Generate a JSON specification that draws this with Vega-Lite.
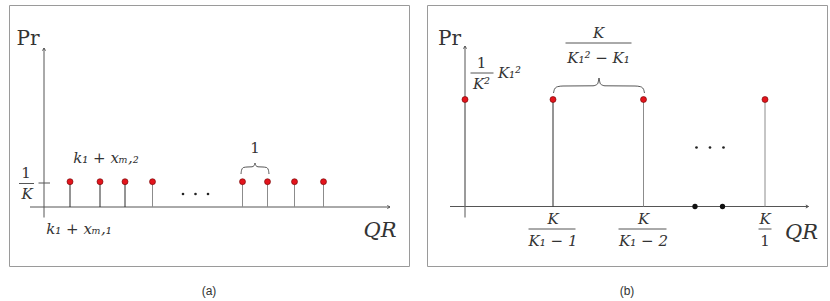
{
  "$schema": "https://vega.github.io/schema/vega-lite/v6.json",
  "padding": {"left": 8, "top": 4, "right": 0, "bottom": 0},
  "spacing": 16,
  "background": "white",
  "config": {
    "view": {"stroke": "#9a9a9a", "strokeWidth": 1},
    "title": {"orient": "bottom", "font": "Liberation Sans", "fontSize": 12, "fontWeight": "normal", "color": "#333333", "offset": 20}
  },
  "datasets": {
    "a_rules": [
      {"x": 0, "x2": 0, "y": -10.5, "y2": 159},
      {"x": -14, "x2": 346, "y": 0, "y2": 0},
      {"x": -5.5, "x2": 6, "y": 24, "y2": 24},
      {"x": -25, "x2": -10, "y": 23.5, "y2": 23.5}
    ],
    "a_stems": [
      {"x": 26, "y": 25.3, "shade": "dark"},
      {"x": 56, "y": 25.3, "shade": "dark"},
      {"x": 81, "y": 25.3, "shade": "dark"},
      {"x": 108.5, "y": 25.3, "shade": "light"},
      {"x": 198.5, "y": 25.3, "shade": "light"},
      {"x": 223.5, "y": 25.3, "shade": "light"},
      {"x": 250.5, "y": 25.3, "shade": "light"},
      {"x": 279.5, "y": 25.3, "shade": "light"}
    ],
    "a_arrows": [
      {"x": 0, "y": 159, "dir": "up"},
      {"x": 346, "y": 0, "dir": "right"}
    ],
    "a_dots": [
      {"x": 139, "y": 13},
      {"x": 151.5, "y": 13},
      {"x": 164, "y": 13}
    ],
    "a_brace": [
      {"x": 197, "y": 33, "part": "L", "order": 1},
      {"x": 197.6, "y": 37, "part": "L", "order": 2},
      {"x": 199.5, "y": 39.5, "part": "L", "order": 3},
      {"x": 203, "y": 40, "part": "L", "order": 4},
      {"x": 208, "y": 40.2, "part": "L", "order": 5},
      {"x": 210.2, "y": 41.5, "part": "L", "order": 6},
      {"x": 211, "y": 44, "part": "L", "order": 7},
      {"x": 211, "y": 44, "part": "R", "order": 1},
      {"x": 211.8, "y": 41.5, "part": "R", "order": 2},
      {"x": 214, "y": 40.2, "part": "R", "order": 3},
      {"x": 219, "y": 40, "part": "R", "order": 4},
      {"x": 222.5, "y": 39.5, "part": "R", "order": 5},
      {"x": 224.4, "y": 37, "part": "R", "order": 6},
      {"x": 225, "y": 33, "part": "R", "order": 7}
    ],
    "a_labels": [
      {"text": "Pr", "kind": "pr", "x": -16, "y": 168},
      {"text": "QR", "kind": "qr", "x": 336, "y": -24},
      {"text": "1", "kind": "num", "x": -18, "y": 34},
      {"text": "K", "kind": "math", "x": -17, "y": 13},
      {"text": "k₁ + xₘ,₂", "kind": "math", "x": 62, "y": 49},
      {"text": "k₁ + xₘ,₁", "kind": "math", "x": 35, "y": -22},
      {"text": "1", "kind": "num", "x": 211, "y": 59}
    ],
    "b_rules": [
      {"x": 0, "x2": 0, "y": -11, "y2": 160.5},
      {"x": -15, "x2": 343.5, "y": 0, "y2": 0},
      {"x": 5.5, "x2": 28.5, "y": 133.5, "y2": 133.5},
      {"x": 100.5, "x2": 166.5, "y": 163.5, "y2": 163.5},
      {"x": 63.5, "x2": 110.5, "y": -22.5, "y2": -22.5},
      {"x": 153.5, "x2": 201.5, "y": -22.5, "y2": -22.5},
      {"x": 293.5, "x2": 306.5, "y": -22.5, "y2": -22.5}
    ],
    "b_stems": [
      {"x": 0, "y": 107, "shade": "light"},
      {"x": 88, "y": 107, "shade": "dark"},
      {"x": 178.5, "y": 107, "shade": "light"},
      {"x": 300, "y": 107, "shade": "light"}
    ],
    "b_arrows": [
      {"x": 0, "y": 160.5, "dir": "up"},
      {"x": 343.5, "y": 0, "dir": "right"}
    ],
    "b_dots": [
      {"x": 231.5, "y": 59},
      {"x": 245, "y": 59},
      {"x": 258.5, "y": 59}
    ],
    "b_axisdots": [
      {"x": 230, "y": 0},
      {"x": 257.5, "y": 0}
    ],
    "b_brace": [
      {"x": 88.5, "y": 113.5, "part": "L", "order": 1},
      {"x": 89.6, "y": 117.5, "part": "L", "order": 2},
      {"x": 92.5, "y": 119.8, "part": "L", "order": 3},
      {"x": 98, "y": 120.5, "part": "L", "order": 4},
      {"x": 128, "y": 120.7, "part": "L", "order": 5},
      {"x": 132.5, "y": 122.5, "part": "L", "order": 6},
      {"x": 134, "y": 128.5, "part": "L", "order": 7},
      {"x": 134, "y": 128.5, "part": "R", "order": 1},
      {"x": 135.5, "y": 122.5, "part": "R", "order": 2},
      {"x": 140, "y": 120.7, "part": "R", "order": 3},
      {"x": 170, "y": 120.5, "part": "R", "order": 4},
      {"x": 175.5, "y": 119.8, "part": "R", "order": 5},
      {"x": 178.4, "y": 117.5, "part": "R", "order": 6},
      {"x": 179.5, "y": 113.5, "part": "R", "order": 7}
    ],
    "b_labels": [
      {"text": "Pr", "kind": "pr", "x": -15.5, "y": 167.5},
      {"text": "QR", "kind": "qr", "x": 336.5, "y": -26.5},
      {"text": "1", "kind": "num", "x": 16.5, "y": 143.5},
      {"text": "K²", "kind": "math", "x": 16.5, "y": 123},
      {"text": "K₁²", "kind": "math", "x": 44.5, "y": 133.5},
      {"text": "K", "kind": "math", "x": 133.5, "y": 173.5},
      {"text": "K₁² − K₁", "kind": "math", "x": 133.5, "y": 148.5},
      {"text": "K", "kind": "math", "x": 88, "y": -12.5},
      {"text": "K₁ − 1", "kind": "math", "x": 88, "y": -34.5},
      {"text": "K", "kind": "math", "x": 178.5, "y": -12.5},
      {"text": "K₁ − 2", "kind": "math", "x": 178.5, "y": -34.5},
      {"text": "K", "kind": "math", "x": 300, "y": -12.5},
      {"text": "1", "kind": "num", "x": 300, "y": -34.5}
    ]
  },
  "hconcat": [
    {
      "width": 400,
      "height": 261,
      "title": {"text": "(a)"},
      "layer": [
        {
          "data": {"name": "a_rules"},
          "mark": {"type": "rule", "color": "#555555", "strokeWidth": 1},
          "encoding": {
            "x": {"field": "x", "type": "quantitative", "scale": {"domain": [-35, 365], "nice": false, "zero": false}, "axis": null},
            "x2": {"field": "x2"},
            "y": {"field": "y", "type": "quantitative", "scale": {"domain": [-59, 202], "nice": false, "zero": false}, "axis": null},
            "y2": {"field": "y2"}
          }
        },
        {
          "data": {"name": "a_stems"},
          "mark": {"type": "rule", "strokeWidth": 1},
          "encoding": {
            "x": {"field": "x", "type": "quantitative", "scale": {"domain": [-35, 365], "nice": false, "zero": false}, "axis": null},
            "y": {"field": "y", "type": "quantitative", "scale": {"domain": [-59, 202], "nice": false, "zero": false}, "axis": null},
            "y2": {"datum": 0},
            "color": {"field": "shade", "type": "nominal", "scale": {"domain": ["dark", "light"], "range": ["#2b2b2b", "#8c8c8c"]}, "legend": null}
          }
        },
        {
          "data": {"name": "a_stems"},
          "mark": {"type": "point", "shape": "circle", "filled": true, "fill": "#e3141c", "stroke": "#6a0000", "strokeWidth": 0.6, "size": 36, "opacity": 1},
          "encoding": {
            "x": {"field": "x", "type": "quantitative", "scale": {"domain": [-35, 365], "nice": false, "zero": false}, "axis": null},
            "y": {"field": "y", "type": "quantitative", "scale": {"domain": [-59, 202], "nice": false, "zero": false}, "axis": null}
          }
        },
        {
          "data": {"name": "a_arrows"},
          "mark": {"type": "point", "filled": false, "stroke": "#555555", "strokeWidth": 1, "size": 36, "opacity": 1},
          "encoding": {
            "x": {"field": "x", "type": "quantitative", "scale": {"domain": [-35, 365], "nice": false, "zero": false}, "axis": null},
            "y": {"field": "y", "type": "quantitative", "scale": {"domain": [-59, 202], "nice": false, "zero": false}, "axis": null},
            "shape": {"field": "dir", "type": "nominal", "scale": {"domain": ["up", "right"], "range": ["M -0.5 0.9 L 0 0 L 0.5 0.9", "M -0.9 -0.5 L 0 0 L -0.9 0.5"]}, "legend": null}
          }
        },
        {
          "data": {"name": "a_dots"},
          "mark": {"type": "point", "shape": "circle", "filled": true, "color": "#222222", "size": 7, "opacity": 1},
          "encoding": {
            "x": {"field": "x", "type": "quantitative", "scale": {"domain": [-35, 365], "nice": false, "zero": false}, "axis": null},
            "y": {"field": "y", "type": "quantitative", "scale": {"domain": [-59, 202], "nice": false, "zero": false}, "axis": null}
          }
        },
        {
          "data": {"name": "a_brace"},
          "mark": {"type": "line", "color": "#444444", "strokeWidth": 0.9, "interpolate": "monotone"},
          "encoding": {
            "x": {"field": "x", "type": "quantitative", "scale": {"domain": [-35, 365], "nice": false, "zero": false}, "axis": null},
            "y": {"field": "y", "type": "quantitative", "scale": {"domain": [-59, 202], "nice": false, "zero": false}, "axis": null},
            "detail": {"field": "part"},
            "order": {"field": "order", "type": "quantitative"}
          }
        },
        {
          "data": {"name": "a_labels"},
          "transform": [{"filter": "datum.kind === 'math'"}],
          "mark": {"type": "text", "font": "DejaVu Serif", "fontStyle": "italic", "fontSize": 15, "color": "#333333", "align": "center", "baseline": "middle"},
          "encoding": {
            "x": {"field": "x", "type": "quantitative", "scale": {"domain": [-35, 365], "nice": false, "zero": false}, "axis": null},
            "y": {"field": "y", "type": "quantitative", "scale": {"domain": [-59, 202], "nice": false, "zero": false}, "axis": null},
            "text": {"field": "text"}
          }
        },
        {
          "data": {"name": "a_labels"},
          "transform": [{"filter": "datum.kind === 'num'"}],
          "mark": {"type": "text", "font": "DejaVu Serif", "fontSize": 15, "color": "#333333", "align": "center", "baseline": "middle"},
          "encoding": {
            "x": {"field": "x", "type": "quantitative", "scale": {"domain": [-35, 365], "nice": false, "zero": false}, "axis": null},
            "y": {"field": "y", "type": "quantitative", "scale": {"domain": [-59, 202], "nice": false, "zero": false}, "axis": null},
            "text": {"field": "text"}
          }
        },
        {
          "data": {"name": "a_labels"},
          "transform": [{"filter": "datum.kind === 'pr'"}],
          "mark": {"type": "text", "font": "DejaVu Serif", "fontSize": 20, "color": "#333333", "align": "center", "baseline": "middle"},
          "encoding": {
            "x": {"field": "x", "type": "quantitative", "scale": {"domain": [-35, 365], "nice": false, "zero": false}, "axis": null},
            "y": {"field": "y", "type": "quantitative", "scale": {"domain": [-59, 202], "nice": false, "zero": false}, "axis": null},
            "text": {"field": "text"}
          }
        },
        {
          "data": {"name": "a_labels"},
          "transform": [{"filter": "datum.kind === 'qr'"}],
          "mark": {"type": "text", "font": "DejaVu Serif", "fontStyle": "italic", "fontSize": 21, "color": "#333333", "align": "center", "baseline": "middle"},
          "encoding": {
            "x": {"field": "x", "type": "quantitative", "scale": {"domain": [-35, 365], "nice": false, "zero": false}, "axis": null},
            "y": {"field": "y", "type": "quantitative", "scale": {"domain": [-59, 202], "nice": false, "zero": false}, "axis": null},
            "text": {"field": "text"}
          }
        }
      ]
    },
    {
      "width": 400,
      "height": 261,
      "title": {"text": "(b)"},
      "layer": [
        {
          "data": {"name": "b_rules"},
          "mark": {"type": "rule", "color": "#555555", "strokeWidth": 1},
          "encoding": {
            "x": {"field": "x", "type": "quantitative", "scale": {"domain": [-38, 362], "nice": false, "zero": false}, "axis": null},
            "x2": {"field": "x2"},
            "y": {"field": "y", "type": "quantitative", "scale": {"domain": [-59.5, 201.5], "nice": false, "zero": false}, "axis": null},
            "y2": {"field": "y2"}
          }
        },
        {
          "data": {"name": "b_stems"},
          "mark": {"type": "rule", "strokeWidth": 1},
          "encoding": {
            "x": {"field": "x", "type": "quantitative", "scale": {"domain": [-38, 362], "nice": false, "zero": false}, "axis": null},
            "y": {"field": "y", "type": "quantitative", "scale": {"domain": [-59.5, 201.5], "nice": false, "zero": false}, "axis": null},
            "y2": {"datum": 0},
            "color": {"field": "shade", "type": "nominal", "scale": {"domain": ["dark", "light"], "range": ["#1e1e1e", "#8c8c8c"]}, "legend": null}
          }
        },
        {
          "data": {"name": "b_stems"},
          "mark": {"type": "point", "shape": "circle", "filled": true, "fill": "#e3141c", "stroke": "#6a0000", "strokeWidth": 0.6, "size": 36, "opacity": 1},
          "encoding": {
            "x": {"field": "x", "type": "quantitative", "scale": {"domain": [-38, 362], "nice": false, "zero": false}, "axis": null},
            "y": {"field": "y", "type": "quantitative", "scale": {"domain": [-59.5, 201.5], "nice": false, "zero": false}, "axis": null}
          }
        },
        {
          "data": {"name": "b_arrows"},
          "mark": {"type": "point", "filled": false, "stroke": "#555555", "strokeWidth": 1, "size": 36, "opacity": 1},
          "encoding": {
            "x": {"field": "x", "type": "quantitative", "scale": {"domain": [-38, 362], "nice": false, "zero": false}, "axis": null},
            "y": {"field": "y", "type": "quantitative", "scale": {"domain": [-59.5, 201.5], "nice": false, "zero": false}, "axis": null},
            "shape": {"field": "dir", "type": "nominal", "scale": {"domain": ["up", "right"], "range": ["M -0.5 0.9 L 0 0 L 0.5 0.9", "M -0.9 -0.5 L 0 0 L -0.9 0.5"]}, "legend": null}
          }
        },
        {
          "data": {"name": "b_dots"},
          "mark": {"type": "point", "shape": "circle", "filled": true, "color": "#222222", "size": 7, "opacity": 1},
          "encoding": {
            "x": {"field": "x", "type": "quantitative", "scale": {"domain": [-38, 362], "nice": false, "zero": false}, "axis": null},
            "y": {"field": "y", "type": "quantitative", "scale": {"domain": [-59.5, 201.5], "nice": false, "zero": false}, "axis": null}
          }
        },
        {
          "data": {"name": "b_axisdots"},
          "mark": {"type": "point", "shape": "circle", "filled": true, "color": "#111111", "size": 28, "opacity": 1},
          "encoding": {
            "x": {"field": "x", "type": "quantitative", "scale": {"domain": [-38, 362], "nice": false, "zero": false}, "axis": null},
            "y": {"field": "y", "type": "quantitative", "scale": {"domain": [-59.5, 201.5], "nice": false, "zero": false}, "axis": null}
          }
        },
        {
          "data": {"name": "b_brace"},
          "mark": {"type": "line", "color": "#444444", "strokeWidth": 0.9, "interpolate": "monotone"},
          "encoding": {
            "x": {"field": "x", "type": "quantitative", "scale": {"domain": [-38, 362], "nice": false, "zero": false}, "axis": null},
            "y": {"field": "y", "type": "quantitative", "scale": {"domain": [-59.5, 201.5], "nice": false, "zero": false}, "axis": null},
            "detail": {"field": "part"},
            "order": {"field": "order", "type": "quantitative"}
          }
        },
        {
          "data": {"name": "b_labels"},
          "transform": [{"filter": "datum.kind === 'math'"}],
          "mark": {"type": "text", "font": "DejaVu Serif", "fontStyle": "italic", "fontSize": 15, "color": "#333333", "align": "center", "baseline": "middle"},
          "encoding": {
            "x": {"field": "x", "type": "quantitative", "scale": {"domain": [-38, 362], "nice": false, "zero": false}, "axis": null},
            "y": {"field": "y", "type": "quantitative", "scale": {"domain": [-59.5, 201.5], "nice": false, "zero": false}, "axis": null},
            "text": {"field": "text"}
          }
        },
        {
          "data": {"name": "b_labels"},
          "transform": [{"filter": "datum.kind === 'num'"}],
          "mark": {"type": "text", "font": "DejaVu Serif", "fontSize": 15, "color": "#333333", "align": "center", "baseline": "middle"},
          "encoding": {
            "x": {"field": "x", "type": "quantitative", "scale": {"domain": [-38, 362], "nice": false, "zero": false}, "axis": null},
            "y": {"field": "y", "type": "quantitative", "scale": {"domain": [-59.5, 201.5], "nice": false, "zero": false}, "axis": null},
            "text": {"field": "text"}
          }
        },
        {
          "data": {"name": "b_labels"},
          "transform": [{"filter": "datum.kind === 'pr'"}],
          "mark": {"type": "text", "font": "DejaVu Serif", "fontSize": 20, "color": "#333333", "align": "center", "baseline": "middle"},
          "encoding": {
            "x": {"field": "x", "type": "quantitative", "scale": {"domain": [-38, 362], "nice": false, "zero": false}, "axis": null},
            "y": {"field": "y", "type": "quantitative", "scale": {"domain": [-59.5, 201.5], "nice": false, "zero": false}, "axis": null},
            "text": {"field": "text"}
          }
        },
        {
          "data": {"name": "b_labels"},
          "transform": [{"filter": "datum.kind === 'qr'"}],
          "mark": {"type": "text", "font": "DejaVu Serif", "fontStyle": "italic", "fontSize": 21, "color": "#333333", "align": "center", "baseline": "middle"},
          "encoding": {
            "x": {"field": "x", "type": "quantitative", "scale": {"domain": [-38, 362], "nice": false, "zero": false}, "axis": null},
            "y": {"field": "y", "type": "quantitative", "scale": {"domain": [-59.5, 201.5], "nice": false, "zero": false}, "axis": null},
            "text": {"field": "text"}
          }
        }
      ]
    }
  ]
}
